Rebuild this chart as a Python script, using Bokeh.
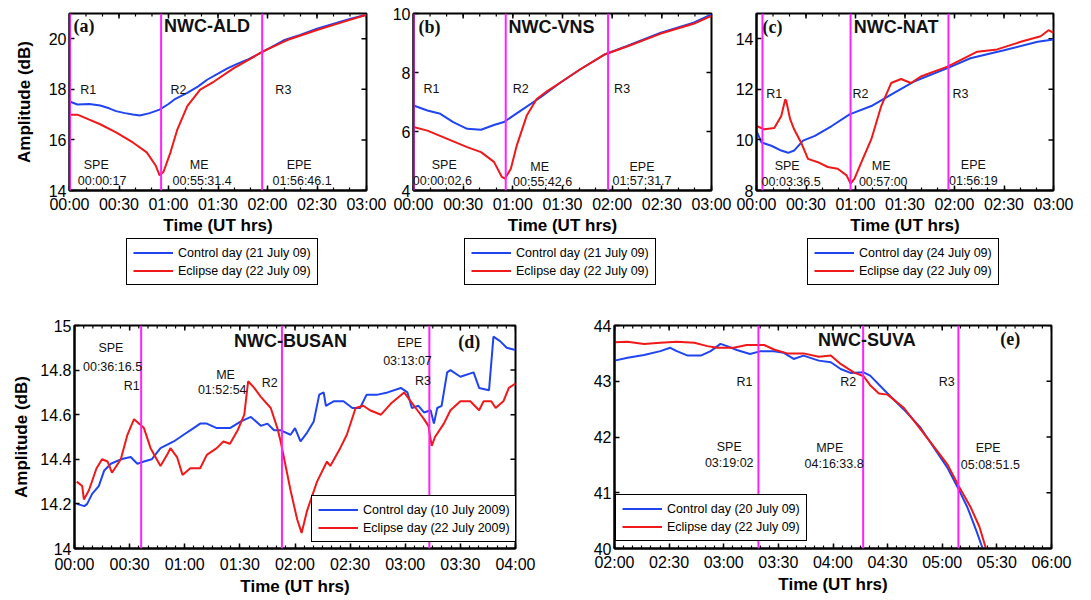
import numpy as np
from bokeh.plotting import figure
from bokeh.models import FixedTicker, Legend, LegendItem, Label, Span, Range1d
from bokeh.layouts import column, row
from bokeh.embed import file_html
from bokeh.resources import INLINE

# ---------------- data ----------------
# time in hours (UT), amplitude in dB
# Panel (a) NWC-ALD
a_ctrl_t = [0.0, 0.08, 0.2, 0.31, 0.4, 0.47, 0.56, 0.64, 0.71, 0.81, 0.91, 1.0, 1.06, 1.19, 1.3, 1.39, 1.5, 1.6, 1.7, 1.79, 1.96, 2.165, 2.33, 2.5, 2.67, 2.84, 3.0]
a_ctrl_v = [17.52, 17.40, 17.42, 17.36, 17.25, 17.14, 17.06, 17.01, 16.97, 17.06, 17.20, 17.42, 17.60, 17.86, 18.12, 18.38, 18.62, 18.84, 19.02, 19.16, 19.50, 19.94, 20.15, 20.40, 20.60, 20.79, 20.95]
a_ecl_t = [0.0, 0.08, 0.2, 0.31, 0.47, 0.64, 0.78, 0.87, 0.91, 0.95, 1.02, 1.09, 1.19, 1.32, 1.46, 1.66, 1.8, 1.95, 2.2, 2.5, 2.75, 3.0]
a_ecl_v = [17.0, 17.0, 16.80, 16.62, 16.30, 15.90, 15.51, 14.99, 14.60, 14.74, 15.51, 16.42, 17.34, 17.99, 18.31, 18.84, 19.15, 19.49, 19.95, 20.35, 20.65, 20.95]
a_events = ["00:00:17", "00:55:31.4", "01:56:46.1"]
a_legend = ["Control day (21 July 09)", "Eclipse day (22 July 09)"]

# Panel (b) NWC-VNS
b_ctrl_t = [0.0, 0.14, 0.27, 0.4, 0.54, 0.68, 0.81, 0.91, 1.08, 1.28, 1.48, 1.68, 1.93, 2.15, 2.49, 2.82, 3.0]
b_ctrl_v = [6.88, 6.71, 6.60, 6.32, 6.09, 6.06, 6.22, 6.32, 6.71, 7.16, 7.66, 8.11, 8.62, 8.90, 9.35, 9.69, 9.97]
b_ecl_t = [0.0, 0.14, 0.34, 0.54, 0.68, 0.81, 0.89, 0.92, 0.98, 1.04, 1.14, 1.24, 1.35, 1.48, 1.68, 1.93, 2.15, 2.49, 2.82, 3.0]
b_ecl_v = [6.15, 6.03, 5.75, 5.47, 5.30, 4.97, 4.46, 4.40, 4.74, 5.53, 6.54, 7.10, 7.38, 7.66, 8.11, 8.62, 8.88, 9.32, 9.65, 9.92]
b_events = ["00:00:02.6", "00:55:42.6", "01:57:31.7"]
b_legend = ["Control day (21 July 09)", "Eclipse day (22 July 09)"]

# Panel (c) NWC-NAT
c_ctrl_t = [0.0, 0.05, 0.15, 0.25, 0.32, 0.38, 0.47, 0.59, 0.76, 0.94, 1.16, 1.39, 1.59, 1.93, 2.16, 2.5, 2.84, 3.0]
c_ctrl_v = [10.36, 9.90, 9.77, 9.58, 9.49, 9.58, 9.97, 10.16, 10.55, 11.01, 11.34, 11.86, 12.31, 12.84, 13.23, 13.55, 13.88, 13.97]
c_ecl_t = [0.0, 0.08, 0.18, 0.25, 0.29, 0.30, 0.34, 0.38, 0.45, 0.52, 0.62, 0.72, 0.82, 0.91, 0.95, 0.99, 1.06, 1.16, 1.26, 1.36, 1.46, 1.56, 1.66, 1.79, 1.93, 2.06, 2.23, 2.43, 2.67, 2.87, 2.95, 3.0]
c_ecl_v = [10.55, 10.42, 10.47, 10.95, 11.60, 11.55, 10.82, 10.42, 9.90, 9.25, 9.12, 8.93, 8.86, 8.60, 8.27, 8.47, 9.12, 10.03, 11.34, 12.25, 12.41, 12.25, 12.51, 12.70, 12.90, 13.16, 13.49, 13.58, 13.88, 14.10, 14.34, 14.23]
c_events = ["00:03:36.5", "00:57:00", "01:56:19"]
c_legend = ["Control day (24 July 09)", "Eclipse day (22 July 09)"]

# Panel (d) NWC-BUSAN
d_ctrl_t = [0.02, 0.09, 0.115, 0.16, 0.22, 0.27, 0.33, 0.42, 0.51, 0.57, 0.63, 0.70, 0.78, 0.90, 0.99, 1.08, 1.14, 1.20, 1.29, 1.41, 1.51, 1.60, 1.69, 1.75, 1.81, 1.87, 1.96, 2.00, 2.05, 2.11, 2.17, 2.22, 2.26, 2.28, 2.35, 2.44, 2.52, 2.59, 2.65, 2.75, 2.84, 2.96, 3.02, 3.06, 3.12, 3.17, 3.23, 3.26, 3.29, 3.33, 3.38, 3.41, 3.50, 3.62, 3.67, 3.76, 3.80, 3.86, 3.92, 4.0]
d_ctrl_v = [14.20, 14.19, 14.20, 14.245, 14.28, 14.35, 14.38, 14.40, 14.41, 14.38, 14.39, 14.40, 14.45, 14.48, 14.51, 14.54, 14.56, 14.56, 14.54, 14.54, 14.57, 14.59, 14.55, 14.56, 14.53, 14.53, 14.51, 14.54, 14.48, 14.52, 14.57, 14.69, 14.70, 14.64, 14.66, 14.66, 14.63, 14.63, 14.69, 14.69, 14.70, 14.72, 14.70, 14.63, 14.64, 14.61, 14.62, 14.56, 14.63, 14.64, 14.79, 14.80, 14.77, 14.79, 14.72, 14.71, 14.95, 14.93, 14.90, 14.89]
d_ecl_t = [0.02, 0.07, 0.085, 0.13, 0.20, 0.25, 0.30, 0.34, 0.42, 0.48, 0.54, 0.63, 0.69, 0.78, 0.84, 0.87, 0.93, 0.98, 1.05, 1.14, 1.20, 1.29, 1.35, 1.41, 1.48, 1.54, 1.575, 1.63, 1.69, 1.78, 1.84, 1.87, 1.96, 2.02, 2.06, 2.11, 2.20, 2.29, 2.32, 2.41, 2.47, 2.55, 2.62, 2.68, 2.78, 2.87, 2.99, 3.05, 3.11, 3.17, 3.21, 3.24, 3.27, 3.35, 3.41, 3.50, 3.59, 3.67, 3.71, 3.78, 3.82, 3.89, 3.94, 4.0]
d_ecl_v = [14.30, 14.28, 14.22, 14.26, 14.36, 14.40, 14.39, 14.34, 14.40, 14.51, 14.58, 14.54, 14.45, 14.37, 14.42, 14.45, 14.41, 14.33, 14.36, 14.36, 14.42, 14.45, 14.48, 14.47, 14.53, 14.60, 14.75, 14.72, 14.68, 14.63, 14.54, 14.48, 14.26, 14.13, 14.07, 14.17, 14.30, 14.39, 14.37, 14.45, 14.51, 14.63, 14.64, 14.62, 14.60, 14.65, 14.70, 14.66, 14.62, 14.58, 14.55, 14.46, 14.50, 14.56, 14.62, 14.66, 14.66, 14.62, 14.66, 14.66, 14.63, 14.66, 14.72, 14.74]
d_events = ["00:36:16.5", "01:52:54", "03:13:07"]
d_legend = ["Control day (10 July 2009)", "Eclipse day (22 July 2009)"]

# Panel (e) NWC-SUVA
e_ctrl_t = [2.0, 2.12, 2.27, 2.42, 2.51, 2.57, 2.67, 2.79, 2.88, 2.97, 3.03, 3.12, 3.24, 3.34, 3.46, 3.55, 3.64, 3.73, 3.87, 3.98, 4.07, 4.16, 4.28, 4.34, 4.50, 4.65, 4.80, 4.95, 5.05, 5.15, 5.23, 5.31, 5.37]
e_ctrl_v = [43.37, 43.42, 43.47, 43.54, 43.60, 43.54, 43.46, 43.46, 43.54, 43.67, 43.63, 43.56, 43.49, 43.54, 43.54, 43.51, 43.40, 43.46, 43.37, 43.34, 43.22, 43.15, 43.16, 43.10, 42.78, 42.49, 42.17, 41.73, 41.44, 41.06, 40.74, 40.33, 40.0]
e_ecl_t = [2.0, 2.12, 2.27, 2.42, 2.57, 2.73, 2.85, 2.94, 3.09, 3.21, 3.37, 3.46, 3.58, 3.73, 3.87, 3.98, 4.07, 4.19, 4.28, 4.34, 4.42, 4.50, 4.65, 4.80, 4.95, 5.05, 5.15, 5.26, 5.34, 5.40]
e_ecl_v = [43.70, 43.71, 43.67, 43.69, 43.71, 43.69, 43.63, 43.60, 43.60, 43.65, 43.65, 43.57, 43.50, 43.50, 43.44, 43.46, 43.31, 43.16, 43.09, 42.93, 42.78, 42.76, 42.52, 42.14, 41.76, 41.50, 41.12, 40.74, 40.39, 40.0]
e_events = ["03:19:02", "04:16:33.8", "05:08:51.5"]
e_legend = ["Control day (20 July 09)", "Eclipse day (22 July 09)"]

# tick labels
xt3_vals = [0, 0.5, 1, 1.5, 2, 2.5, 3]
xt3_labels = ["00:00", "00:30", "01:00", "01:30", "02:00", "02:30", "03:00"]
xt_d_vals = [0, 0.5, 1, 1.5, 2, 2.5, 3, 3.5, 4]
xt_d_labels = ["00:00", "00:30", "01:00", "01:30", "02:00", "02:30", "03:00", "03:30", "04:00"]
xt_e_vals = [2, 2.5, 3, 3.5, 4, 4.5, 5, 5.5, 6]
xt_e_labels = ["02:00", "02:30", "03:00", "03:30", "04:00", "04:30", "05:00", "05:30", "06:00"]
yt_a = [14, 16, 18, 20]
yt_b = [4, 6, 8, 10]
yt_c = [8, 10, 12, 14]
yt_d = [14, 14.2, 14.4, 14.6, 14.8, 15]
yt_d_labels = ["14", "14.2", "14.4", "14.6", "14.8", "15"]
yt_e = [40, 41, 42, 43, 44]

# ---------------- style ----------------
BLUE = "#1f44f0"
RED = "#f01818"
MAG = "#ff22ff"
SANS = "Liberation Sans"
SERIF = "Liberation Serif"


def hours(s):
    h, m, sec = s.split(":")
    return int(h) + int(m) / 60.0 + float(sec) / 3600.0


def panel(width, height, mb, xr, yr, xticks, xlabels, xminor, yticks, ylabels,
          ylabel=None, xlabel_standoff=5, axis_label_standoff=0, ylab_standoff=10):
    p = figure(width=width, height=height, x_range=Range1d(*xr), y_range=Range1d(*yr),
               output_backend="svg", toolbar_location=None,
               min_border_left=mb[0], min_border_right=mb[1],
               min_border_top=mb[2], min_border_bottom=mb[3])
    p.grid.visible = False
    p.outline_line_color = "black"
    p.outline_line_width = 2
    p.background_fill_color = "white"
    p.border_fill_color = "white"
    xt = FixedTicker(ticks=xticks, minor_ticks=xminor)
    yt = FixedTicker(ticks=yticks, minor_ticks=[])
    ax = p.xaxis[0]
    ay = p.yaxis[0]
    ax.ticker = xt
    ay.ticker = yt
    ax.major_label_overrides = {float(k): v for k, v in zip(xticks, xlabels)}
    ay.major_label_overrides = {float(k): v for k, v in zip(yticks, ylabels)}
    for a in (ax, ay):
        a.major_tick_in = 5
        a.major_tick_out = 0
        a.minor_tick_in = 3
        a.minor_tick_out = 0
        a.axis_line_width = 2
        a.major_tick_line_width = 1.5
        a.minor_tick_line_width = 1.2
        a.major_label_text_font = SANS
        a.major_label_text_font_size = "16px"
        a.major_label_text_color = "black"
        a.axis_label_text_font = SANS
        a.axis_label_text_font_style = "bold"
        a.axis_label_text_font_size = "17px"
        a.axis_label_text_color = "black"
    ax.major_label_standoff = xlabel_standoff
    ay.major_label_standoff = 3
    ax.axis_label = "Time (UT hrs)"
    ax.axis_label_standoff = axis_label_standoff
    if ylabel:
        ay.axis_label = ylabel
        ay.axis_label_standoff = ylab_standoff

    # tick marks on the top and right edges of the box (inside)
    fw = width - mb[0] - mb[1]
    fh = height - mb[2] - mb[3]
    dx = (xr[1] - xr[0]) / fw
    dy = (yr[1] - yr[0]) / fh
    p.segment(x0=xminor, y0=[yr[1]] * len(xminor), x1=xminor,
              y1=[yr[1] - 3 * dy] * len(xminor), line_color="black", line_width=1.2)
    p.segment(x0=xticks, y0=[yr[1]] * len(xticks), x1=xticks,
              y1=[yr[1] - 5 * dy] * len(xticks), line_color="black", line_width=1.5)
    p.segment(x0=[xr[1]] * len(yticks), y0=yticks, x1=[xr[1] - 5 * dx] * len(yticks),
              y1=yticks, line_color="black", line_width=1.5)
    return p


def add_lines(p, ct, cv, et, ev, events):
    for ev_s in events:
        p.add_layout(Span(location=hours(ev_s), dimension="height", line_color=MAG, line_width=2))
    rb = p.line(ct, cv, line_color=BLUE, line_width=2)
    rr = p.line(et, ev, line_color=RED, line_width=2)
    return rb, rr


def make_legend(rb, rr, labels, location):
    leg = Legend(items=[LegendItem(label=labels[0], renderers=[rb]),
                        LegendItem(label=labels[1], renderers=[rr])],
                 location=location, orientation="vertical")
    leg.border_line_color = "black"
    leg.border_line_width = 1.5
    leg.border_line_alpha = 1
    leg.background_fill_color = "white"
    leg.background_fill_alpha = 1
    leg.padding = 6
    leg.spacing = 3
    leg.margin = 0
    leg.glyph_width = 40
    leg.glyph_height = 15
    leg.label_height = 15
    leg.label_standoff = 5
    leg.label_text_font = SANS
    leg.label_text_font_size = "12.5px"
    leg.label_text_color = "black"
    return leg


def legend_fig(width, height, mb_left, mb_right, labels, location, ct, cv, et, ev):
    # a strip under a panel that only carries that panel's legend;
    # its ranges keep the series themselves out of view
    f = figure(width=width, height=height, x_range=Range1d(-20, -19), y_range=Range1d(0, 1),
               output_backend="svg", toolbar_location=None,
               x_axis_type=None, y_axis_type=None,
               min_border_left=mb_left, min_border_right=mb_right,
               min_border_top=0, min_border_bottom=0)
    f.outline_line_color = None
    f.grid.visible = False
    f.background_fill_color = "white"
    f.border_fill_color = "white"
    rb = f.line(ct, cv, line_color=BLUE, line_width=2)
    rr = f.line(et, ev, line_color=RED, line_width=2)
    f.add_layout(make_legend(rb, rr, labels, location), "center")
    return f


def annotate(p, texts, xs, ys, size="12.5px", style="normal", font=SANS, align="center"):
    for t, x, y in zip(texts, xs, ys):
        p.add_layout(Label(x=x, y=y, text=t, text_align=align, text_baseline="middle",
                           text_font=font, text_font_size=size, text_font_style=style,
                           text_color="#111111"))


minor3 = [round(v, 4) for v in np.arange(0, 3.0001, 1 / 6.0)]
minor4 = [round(v, 4) for v in np.arange(0, 4.0001, 1 / 12.0)]
minor_e = [round(v, 4) for v in np.arange(2, 6.0001, 1 / 12.0)]

TOP_H = 237
LEG_H = 63

# ---------------- panel (a) ----------------
pa = panel(388, TOP_H, (69, 22, 13, 45), (0, 3), (14, 21), xt3_vals, xt3_labels, minor3,
           yt_a, [str(v) for v in yt_a], ylabel="Amplitude (dB)", ylab_standoff=12)
add_lines(pa, a_ctrl_t, a_ctrl_v, a_ecl_t, a_ecl_v, a_events)
annotate(pa, ["R1", "R2", "R3", "SPE", a_events[0], "ME", a_events[1], "EPE", a_events[2]],
         [0.19, 1.10, 2.16, 0.27, 0.33, 1.31, 1.34, 2.32, 2.35],
         [17.99, 17.99, 17.99, 15.02, 14.37, 15.0, 14.37, 15.02, 14.37])
annotate(pa, ["NWC-ALD"], [1.39], [20.51], size="18px", style="bold")
annotate(pa, ["(a)"], [0.04], [20.51], size="18px", style="bold", font=SERIF, align="left")
la = legend_fig(388, LEG_H, 69, 22, a_legend, (57, 15), a_ctrl_t, a_ctrl_v, a_ecl_t, a_ecl_v)

# ---------------- panel (b) ----------------
pb = panel(344, TOP_H, (25, 21, 13, 45), (0, 3), (4, 10), xt3_vals, xt3_labels, minor3,
           yt_b, [str(v) for v in yt_b])
add_lines(pb, b_ctrl_t, b_ctrl_v, b_ecl_t, b_ecl_v, b_events)
annotate(pb, ["R1", "R2", "R3", "SPE", b_events[0], "ME", b_events[1], "EPE", b_events[2]],
         [0.18, 1.08, 2.10, 0.31, 0.29, 1.27, 1.30, 2.30, 2.30],
         [7.45, 7.45, 7.45, 4.87, 4.32, 4.80, 4.30, 4.80, 4.32])
annotate(pb, ["NWC-VNS"], [1.39], [9.55], size="18px", style="bold")
annotate(pb, ["(b)"], [0.05], [9.55], size="18px", style="bold", font=SERIF, align="left")
lb = legend_fig(344, LEG_H, 25, 21, b_legend, (51, 15), b_ctrl_t, b_ctrl_v, b_ecl_t, b_ecl_v)

# ---------------- panel (c) ----------------
pc = panel(351, TOP_H, (23, 30, 13, 45), (0, 3), (8, 15), xt3_vals, xt3_labels, minor3,
           yt_c, [str(v) for v in yt_c])
add_lines(pc, c_ctrl_t, c_ctrl_v, c_ecl_t, c_ecl_v, c_events)
annotate(pc, ["R1", "R2", "R3", "SPE", c_events[0], "ME", c_events[1], "EPE", c_events[2]],
         [0.18, 1.05, 2.06, 0.31, 0.35, 1.26, 1.28, 2.19, 2.19],
         [11.83, 11.83, 11.83, 8.96, 8.35, 8.96, 8.35, 9.02, 8.39])
annotate(pc, ["NWC-NAT"], [1.41], [14.47], size="18px", style="bold")
annotate(pc, ["(c)"], [0.06], [14.47], size="18px", style="bold", font=SERIF, align="left")
lc = legend_fig(351, LEG_H, 23, 30, c_legend, (51, 15), c_ctrl_t, c_ctrl_v, c_ecl_t, c_ecl_v)

# ---------------- panel (d) ----------------
pd_ = panel(560, 300, (74, 45, 25, 52), (0, 4), (14, 15), xt_d_vals, xt_d_labels, minor4,
            yt_d, yt_d_labels, ylabel="Amplitude (dB)", xlabel_standoff=7,
            axis_label_standoff=1, ylab_standoff=6)
rb, rr = add_lines(pd_, d_ctrl_t, d_ctrl_v, d_ecl_t, d_ecl_v, d_events)
pd_.add_layout(make_legend(rb, rr, d_legend, (237, 6)), "center")
annotate(pd_, ["SPE", d_events[0], "R1", "ME", d_events[1], "R2", "EPE", d_events[2], "R3"],
         [0.33, 0.345, 0.52, 1.37, 1.34, 1.77, 3.04, 3.02, 3.16],
         [14.897, 14.816, 14.73, 14.776, 14.71, 14.74, 14.92, 14.84, 14.75])
annotate(pd_, ["NWC-BUSAN"], [1.96], [14.93], size="18px", style="bold")
annotate(pd_, ["(d)"], [3.48], [14.926], size="18px", style="bold", font=SERIF, align="left")

# ---------------- panel (e) ----------------
pe = panel(531, 300, (54, 40, 24, 48), (2, 6), (40, 44), xt_e_vals, xt_e_labels, minor_e,
           yt_e, [str(v) for v in yt_e], xlabel_standoff=5, axis_label_standoff=1)
rb, rr = add_lines(pe, e_ctrl_t, e_ctrl_v, e_ecl_t, e_ecl_v, e_events)
pe.add_layout(make_legend(rb, rr, e_legend, (1, 7)), "center")
annotate(pe, ["R1", "R2", "R3", "SPE", e_events[0], "MPE", e_events[1], "EPE", e_events[2]],
         [3.19, 4.14, 5.04, 3.05, 3.05, 3.97, 4.01, 5.42, 5.44],
         [42.98, 42.98, 42.98, 41.82, 41.53, 41.81, 41.51, 41.81, 41.49])
annotate(pe, ["NWC-SUVA"], [4.31], [43.74], size="18px", style="bold")
annotate(pe, ["(e)"], [5.53], [43.75], size="18px", style="bold", font=SERIF, align="left")

layout = column(row(column(pa, la), column(pb, lb), column(pc, lc)), row(pd_, pe))
open("out.html", "w").write(file_html(layout, INLINE))
